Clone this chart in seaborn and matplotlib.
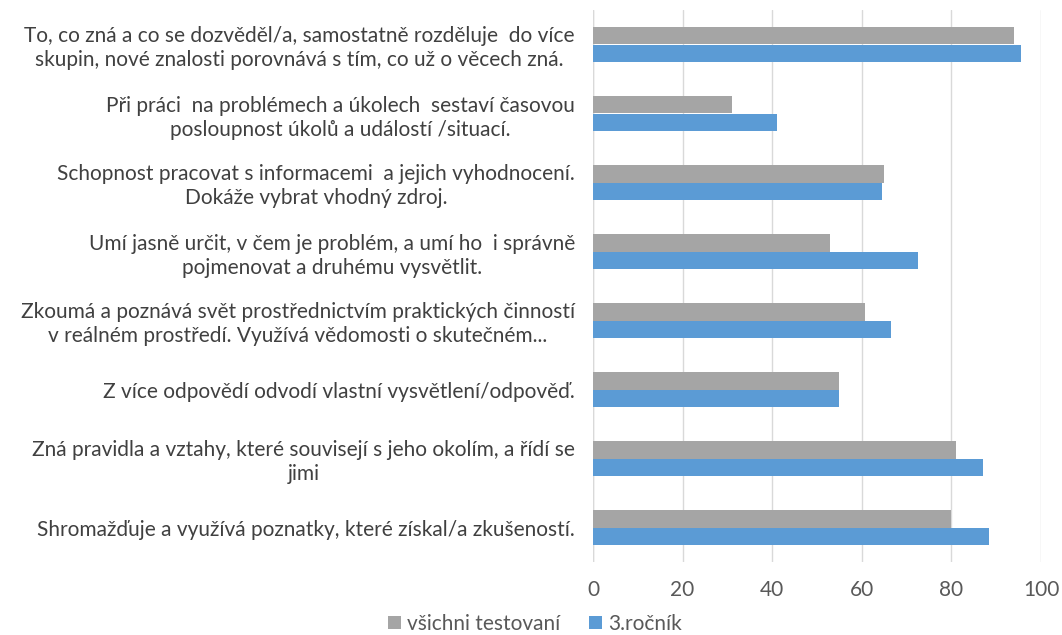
import matplotlib
matplotlib.use("Agg")
import matplotlib.pyplot as plt
import seaborn as sns
import pandas as pd

categories = [
    "To, co zná a co se dozvěděl/a, samostatně rozděluje  do více\nskupin, nové znalosti porovnává s tím, co už o věcech zná.",
    "Při práci  na problémech a úkolech  sestaví časovou\nposloupnost úkolů a událostí /situací.",
    "Schopnost pracovat s informacemi  a jejich vyhodnocení.\nDokáže vybrat vhodný zdroj.",
    "Umí jasně určit, v čem je problém, a umí ho  i správně\npojmenovat a druhému vysvětlit.",
    "Zkoumá a poznává svět prostřednictvím praktických činností\nv reálném prostředí. Využívá vědomosti o skutečném...",
    "Z více odpovědí odvodí vlastní vysvětlení/odpověď.",
    "Zná pravidla a vztahy, které souvisejí s jeho okolím, a řídí se\njimi",
    "Shromažďuje a využívá poznatky, které získal/a zkušeností.",
]
series_names = ["všichni testovaní", "3.ročník"]
vsichni = [94.0, 31.0, 65.0, 53.0, 60.8, 54.8, 81.0, 80.0]
rocnik3 = [95.5, 41.0, 64.4, 72.6, 66.6, 54.8, 87.0, 88.4]
xticks = [0, 20, 40, 60, 80, 100]

df = pd.DataFrame({
    "kategorie": categories * 2,
    "skupina": [series_names[0]] * len(categories) + [series_names[1]] * len(categories),
    "hodnota": vsichni + rocnik3,
})

sns.set_theme(style="white")
plt.rcParams["font.family"] = ["Lato", "DejaVu Sans"]

fig = plt.figure(figsize=(10.62, 6.35), dpi=100)
ax = fig.add_axes([593 / 1062, 1 - 562 / 635, (1041 - 593) / 1062, (562 - 10) / 635])

sns.barplot(data=df, y="kategorie", x="hodnota", hue="skupina", order=categories,
            hue_order=series_names, palette=["#A5A5A5", "#5B9BD5"], orient="h",
            width=0.52, ax=ax, saturation=1, legend=True, linewidth=0, edgecolor="none")

ax.set_xlim(0, 100)
ax.set_xticks(xticks)
ax.set_xticklabels([str(t) for t in xticks])
ax.set_xlabel("")
ax.set_ylabel("")
ax.grid(axis="x", color="#D9D9D9", linewidth=1)
ax.set_axisbelow(True)
for s in ax.spines.values():
    s.set_visible(False)
ax.axvline(0, color="#D9D9D9", linewidth=1, zorder=0)
ax.tick_params(axis="both", length=0, colors="#595959", labelsize=15)
ax.tick_params(axis="y", pad=13)
ax.tick_params(axis="x", pad=13)
for lbl in ax.get_yticklabels():
    lbl.set_multialignment("center")
    lbl.set_color("#404040")
    lbl.set_linespacing(1.25)

ax.get_legend().remove()
handles, labels = ax.get_legend_handles_labels()
fig.legend(handles[:2], labels[:2], loc="center", bbox_to_anchor=(535 / 1062, 1 - 624 / 635),
           ncol=2, frameon=False, fontsize=15, handlelength=0.6, handleheight=0.6,
           handletextpad=0.3, columnspacing=1.4, labelcolor="#595959")

fig.savefig("out.png", dpi=100)
